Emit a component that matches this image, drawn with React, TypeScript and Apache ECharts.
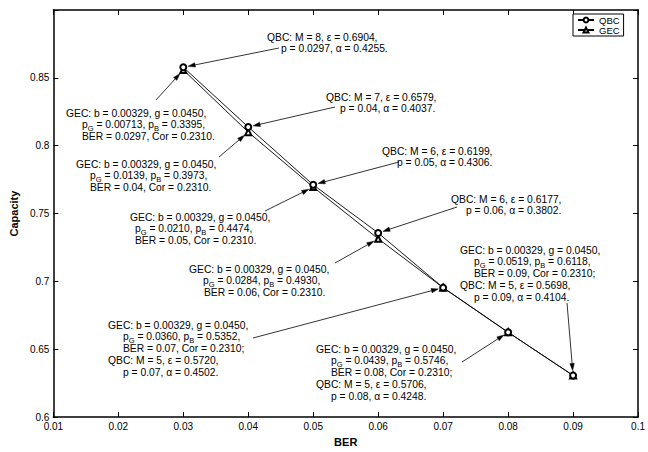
import React, { useEffect, useRef } from "react";
import * as echarts from "echarts";

// ---------- data ----------
const berValues = [0.03, 0.04, 0.05, 0.06, 0.07, 0.08, 0.09];
const qbcCapacity = [0.8578, 0.8138, 0.7712, 0.7357, 0.6954, 0.6625, 0.6307];
const gecCapacity = [0.8558, 0.81, 0.7695, 0.7314, 0.6954, 0.6625, 0.6307];

const xMin = 0.01;
const xMax = 0.1;
const xInterval = 0.01;
const yMin = 0.6;
const yMax = 0.9;
const yInterval = 0.05;

// annotation texts (p_G / p_B are rendered with subscripts)
const annQBC8 = ["QBC: M = 8, ε = 0.6904,", "p = 0.0297, α = 0.4255."];
const annGEC03 = ["GEC: b = 0.00329, g = 0.0450,", "p_G = 0.00713, p_B = 0.3395,", "BER = 0.0297, Cor = 0.2310."];
const annQBC7 = ["QBC: M = 7, ε = 0.6579,", "p = 0.04, α = 0.4037."];
const annGEC04 = ["GEC: b = 0.00329, g = 0.0450,", "p_G = 0.0139, p_B = 0.3973,", "BER = 0.04, Cor = 0.2310."];
const annQBC6a = ["QBC: M = 6, ε = 0.6199,", "p = 0.05, α = 0.4306."];
const annGEC05 = ["GEC: b = 0.00329, g = 0.0450,", "p_G = 0.0210, p_B = 0.4474,", "BER = 0.05, Cor = 0.2310."];
const annQBC6b = ["QBC: M = 6, ε = 0.6177,", "p = 0.06, α = 0.3802."];
const annGEC06 = ["GEC: b = 0.00329, g = 0.0450,", "p_G = 0.0284, p_B = 0.4930,", "BER = 0.06, Cor = 0.2310."];
const ann07 = ["GEC: b = 0.00329, g = 0.0450,", "p_G = 0.0360, p_B = 0.5352,", "BER = 0.07, Cor = 0.2310;", "QBC: M = 5, ε = 0.5720,", "p = 0.07, α = 0.4502."];
const ann08 = ["GEC: b = 0.00329, g = 0.0450,", "p_G = 0.0439, p_B = 0.5746,", "BER = 0.08, Cor = 0.2310;", "QBC: M = 5, ε = 0.5706,", "p = 0.08, α = 0.4248."];
const ann09 = ["GEC: b = 0.00329, g = 0.0450,", "p_G = 0.0519, p_B = 0.6118,", "BER = 0.09, Cor = 0.2310;", "QBC: M = 5, ε = 0.5698,", "p = 0.09, α = 0.4104."];

// ---------- layout (pixels) ----------
type Layout = {
  lines: string[];
  target: "QBC" | "GEC";
  index: number;
  textX: number;
  textY: number;
  indents: number[];
  tail: [number, number];
};

const layouts: Layout[] = [
  { lines: annQBC8, target: "QBC", index: 0, textX: 267, textY: 37, indents: [0, 14], tail: [279, 48] },
  { lines: annGEC03, target: "GEC", index: 0, textX: 66, textY: 113, indents: [0, 16, 16], tail: [156, 100] },
  { lines: annQBC7, target: "QBC", index: 1, textX: 326, textY: 97, indents: [0, 14], tail: [335, 107] },
  { lines: annGEC04, target: "GEC", index: 1, textX: 76, textY: 164, indents: [0, 14, 14], tail: [219, 157] },
  { lines: annQBC6a, target: "QBC", index: 2, textX: 382, textY: 151, indents: [0, 15], tail: [399, 162] },
  { lines: annGEC05, target: "GEC", index: 2, textX: 130, textY: 217, indents: [0, 5, 5], tail: [265, 211] },
  { lines: annQBC6b, target: "QBC", index: 3, textX: 451, textY: 199, indents: [0, 15], tail: [457, 207] },
  { lines: annGEC06, target: "GEC", index: 3, textX: 189, textY: 269, indents: [0, 14, 15], tail: [335, 263] },
  { lines: ann07, target: "QBC", index: 4, textX: 108, textY: 325, indents: [0, 15, 15, 0, 15], tail: [253, 338] },
  { lines: ann08, target: "QBC", index: 5, textX: 316, textY: 349, indents: [0, 15, 15, 0, 15], tail: [462, 362] },
  { lines: ann09, target: "QBC", index: 6, textX: 460, textY: 250, indents: [0, 14, 14, 0, 14], tail: [567, 303] },
];

const FONT = "'Liberation Sans', Arial, Helvetica, sans-serif";
const ANN_SIZE = 10.3;
const SUB_SIZE = 7.5;
const SUB_SHIFT = 3.2;
const LINE_STEP = 11.8;

let measureCtx: CanvasRenderingContext2D | null = null;
function measure(text: string, size: number): number {
  if (!measureCtx) {
    const c = document.createElement("canvas");
    measureCtx = c.getContext("2d");
  }
  if (!measureCtx) return text.length * size * 0.5;
  measureCtx.font = `${size}px ${FONT}`;
  return measureCtx.measureText(text).width;
}

export default function App() {
  const ref = useRef<HTMLDivElement>(null);

  useEffect(() => {
    if (!ref.current) return;
    const chart = echarts.init(ref.current, null, { renderer: "svg" });

    const fmtNum = (v: number) => String(parseFloat(v.toFixed(4)));

    const option: any = {
      animation: false,
      backgroundColor: "#fff",
      textStyle: { fontFamily: FONT },
      grid: { left: 52, right: 8, top: 10, bottom: 28, containLabel: false },
      legend: {
        show: true,
        left: 573,
        top: 14,
        orient: "vertical",
        data: ["QBC", "GEC"],
        borderColor: "#000",
        borderWidth: 1,
        borderRadius: 0,
        padding: [1, 4, 1, 4],
        itemGap: 0,
        itemWidth: 16,
        itemHeight: 6,
        backgroundColor: "#fff",
        textStyle: { fontSize: 9.5, color: "#000", fontFamily: FONT, lineHeight: 10 },
      },
      xAxis: [
        {
          type: "value",
          min: xMin,
          max: xMax,
          interval: xInterval,
          name: "BER",
          nameLocation: "middle",
          nameGap: 16,
          nameTextStyle: { fontSize: 11, fontWeight: "bold", color: "#000", fontFamily: FONT },
          axisLine: { show: true, onZero: false, lineStyle: { color: "#000", width: 1.5 } },
          axisTick: { show: true, inside: true, length: 5, lineStyle: { color: "#000", width: 1 } },
          axisLabel: { show: true, margin: 4, fontSize: 10, color: "#000", fontFamily: FONT, formatter: (v: number) => fmtNum(v), showMinLabel: true, showMaxLabel: true },
          splitLine: { show: false },
        },
        {
          type: "value",
          position: "top",
          min: xMin,
          max: xMax,
          interval: xInterval,
          axisLine: { show: true, onZero: false, lineStyle: { color: "#000", width: 1.5 } },
          axisTick: { show: true, inside: true, length: 5, lineStyle: { color: "#000", width: 1 } },
          axisLabel: { show: false },
          splitLine: { show: false },
        },
      ],
      yAxis: [
        {
          type: "value",
          min: yMin,
          max: yMax,
          interval: yInterval,
          name: "Capacity",
          nameLocation: "middle",
          nameGap: 27,
          nameTextStyle: { fontSize: 11, fontWeight: "bold", color: "#000", fontFamily: FONT },
          axisLine: { show: true, onZero: false, lineStyle: { color: "#000", width: 1.5 } },
          axisTick: { show: true, inside: true, length: 5, lineStyle: { color: "#000", width: 1 } },
          axisLabel: {
            show: true,
            margin: 4,
            fontSize: 10,
            color: "#000",
            fontFamily: FONT,
            formatter: (v: number) => (Math.abs(v - yMax) < 1e-9 ? "" : fmtNum(v)),
          },
          splitLine: { show: false },
        },
        {
          type: "value",
          position: "right",
          min: yMin,
          max: yMax,
          interval: yInterval,
          axisLine: { show: true, onZero: false, lineStyle: { color: "#000", width: 1.5 } },
          axisTick: { show: true, inside: true, length: 5, lineStyle: { color: "#000", width: 1 } },
          axisLabel: { show: false },
          splitLine: { show: false },
        },
      ],
      series: [
        {
          name: "QBC",
          type: "line",
          xAxisIndex: 0,
          yAxisIndex: 0,
          data: berValues.map((x, i) => [x, qbcCapacity[i]]),
          symbol: "emptyCircle",
          symbolSize: 6,
          lineStyle: { color: "#000", width: 0.9 },
          itemStyle: { color: "#000", borderColor: "#000", borderWidth: 0.9 },
          z: 3,
        },
        {
          name: "GEC",
          type: "line",
          xAxisIndex: 0,
          yAxisIndex: 0,
          data: berValues.map((x, i) => [x, gecCapacity[i]]),
          symbol: "emptyTriangle",
          symbolSize: 6,
          lineStyle: { color: "#000", width: 0.9 },
          itemStyle: { color: "#000", borderColor: "#000", borderWidth: 0.9 },
          z: 2,
        },
      ],
    };

    chart.setOption(option);

    const textEl = (x: number, y: number, text: string, size: number, lh: number) => ({
      type: "text",
      silent: true,
      x,
      y,
      style: {
        text,
        fill: "#000",
        fontSize: size,
        fontFamily: FONT,
        lineHeight: lh,
        align: "left",
        verticalAlign: "middle",
        textAlign: "left",
        textVerticalAlign: "middle",
      },
    });

    // annotations (text + arrows); arrows point to the data points via the axes
    const elements: any[] = [];
    layouts.forEach((L) => {
      L.lines.forEach((ln, i) => {
        const x0 = L.textX + (L.indents[i] || 0);
        const y0 = L.textY + i * LINE_STEP;
        const parts = ln.split(/_([GB])/);
        let cx = x0;
        parts.forEach((part, k) => {
          if (!part) return;
          const isSub = k % 2 === 1;
          if (isSub) {
            elements.push(textEl(cx, y0 + SUB_SHIFT, part, SUB_SIZE, 6));
            cx += measure(part, SUB_SIZE);
          } else {
            elements.push(textEl(cx, y0, part, ANN_SIZE, 10));
            cx += measure(part, ANN_SIZE);
          }
        });
      });
      const vals = L.target === "QBC" ? qbcCapacity : gecCapacity;
      const p = chart.convertToPixel({ xAxisIndex: 0, yAxisIndex: 0 }, [berValues[L.index], vals[L.index]]) as number[];
      const [tx, ty] = L.tail;
      const dx = p[0] - tx;
      const dy = p[1] - ty;
      const len = Math.sqrt(dx * dx + dy * dy);
      const ux = dx / len;
      const uy = dy / len;
      const gap = 5;
      const tipX = p[0] - ux * gap;
      const tipY = p[1] - uy * gap;
      const headLen = 7;
      const headW = 2.2;
      const bx = tipX - ux * headLen;
      const by = tipY - uy * headLen;
      const nx = -uy;
      const ny = ux;
      elements.push({
        type: "line",
        silent: true,
        shape: { x1: tx, y1: ty, x2: bx, y2: by },
        style: { stroke: "#000", lineWidth: 0.8 },
      });
      elements.push({
        type: "polygon",
        silent: true,
        shape: {
          points: [
            [tipX, tipY],
            [bx + nx * headW, by + ny * headW],
            [bx - nx * headW, by - ny * headW],
          ],
        },
        style: { fill: "#000", stroke: "#000", lineWidth: 0.5 },
      });
    });

    chart.setOption({ graphic: { elements } });

    return () => {
      chart.dispose();
    };
  }, []);

  return (
    <div
      ref={ref}
      style={{ position: "absolute", left: 0, top: 0, width: 648, height: 452, background: "#fff" }}
    />
  );
}
